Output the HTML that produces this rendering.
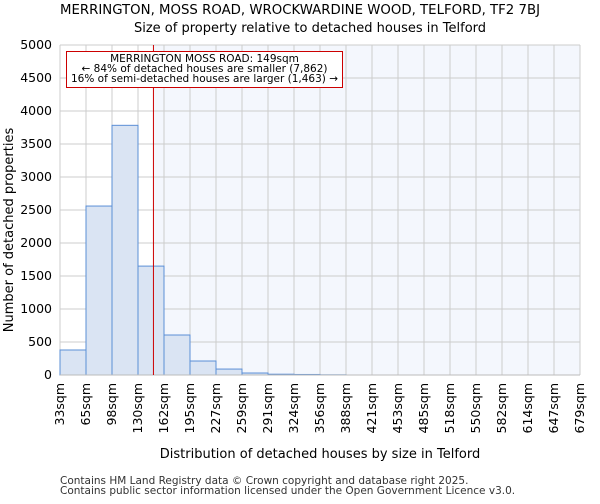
<!DOCTYPE html>
<html><head><meta charset="utf-8"><style>
body{margin:0;background:#fff;font-family:"DejaVu Sans","Liberation Sans",sans-serif;}
</style></head><body>
<svg id="chart" width="600" height="500" xmlns="http://www.w3.org/2000/svg" font-family="DejaVu Sans, Liberation Sans, sans-serif">
<text x="300" y="14" text-anchor="middle" font-size="13" textLength="480" lengthAdjust="spacingAndGlyphs">MERRINGTON, MOSS ROAD, WROCKWARDINE WOOD, TELFORD, TF2 7BJ</text>
<text x="310" y="32" text-anchor="middle" font-size="13">Size of property relative to detached houses in Telford</text>
<g id="plot"></g>
<text x="320" y="458" text-anchor="middle" font-size="13">Distribution of detached houses by size in Telford</text>
<text transform="translate(13,230) rotate(-90)" text-anchor="middle" font-size="13">Number of detached properties</text>
<text x="60" y="484" font-size="10.5" fill="#333">Contains HM Land Registry data © Crown copyright and database right 2025.</text>
<text x="60" y="494" font-size="10.5" fill="#333">Contains public sector information licensed under the Open Government Licence v3.0.</text>
</svg>
<script>
const categories=["33sqm","65sqm","98sqm","130sqm","162sqm","195sqm","227sqm","259sqm","291sqm","324sqm","356sqm","388sqm","421sqm","453sqm","485sqm","518sqm","550sqm","582sqm","614sqm","647sqm","679sqm"];
const values=[379,2560,3783,1650,606,212,90,30,12,8,3,0,0,0,0,0,0,0,0,0];
const yTicks=[0,500,1000,1500,2000,2500,3000,3500,4000,4500,5000];
const binStart=[33,65,98,130,162,195,227,259,291,324,356,388,421,453,485,518,550,582,614,647];
const propertySize=149;
const NS="http://www.w3.org/2000/svg";
const L=60,R=580,T=45,B=375,yMax=5000;
const n=values.length,bw=(R-L)/n;
const y=v=>B-(v/yMax)*(B-T);
const xi=i=>L+i*bw;
const g=document.getElementById('plot');
function mk(t,a){const e=document.createElementNS(NS,t);for(const k in a)e.setAttribute(k,a[k]);g.appendChild(e);return e;}
let pi=0;for(let i=0;i<binStart.length;i++){if(binStart[i]<=propertySize)pi=i;}
const nextStart=pi+1<binStart.length?binStart[pi+1]:binStart[pi]+32;
const px=xi(pi)+bw*(propertySize-binStart[pi])/(nextStart-binStart[pi]);
let bg=mk('rect',{x:L,y:T,width:R-L,height:B-T,fill:'#fff'});


let sh=mk('rect',{x:px,y:T,width:R-px,height:B-T,fill:'#f4f7fd'});


yTicks.forEach(t=>{
 let l=mk('line',{x1:L,x2:R,y1:y(t),y2:y(t),stroke:'#ccc','stroke-width':1});
 
 
 let tx=mk('text',{x:L-8,y:y(t)+4,'text-anchor':'end','font-size':12.5});
 tx.textContent=t;
 
 
});
categories.forEach((c,i)=>{
 let l=mk('line',{x1:xi(i),x2:xi(i),y1:T,y2:B,stroke:'#ccc','stroke-width':1});
 
 
 let tx=mk('text',{transform:`translate(${xi(i)+4},${B+8}) rotate(-90)`,'text-anchor':'end','font-size':12.5});
 tx.textContent=c;
 
 
});
values.forEach((v,i)=>{
 if(v<=0)return;
 let r=mk('rect',{x:xi(i),y:y(v),width:bw,height:B-y(v),fill:'#dae4f3',stroke:'#5b8fd6','stroke-width':1});
 
 
});
let ax=mk('line',{x1:L,x2:R,y1:B,y2:B,stroke:'#bbb','stroke-width':1});


let pl=mk('line',{x1:px,x2:px,y1:T,y2:B,stroke:'#c00','stroke-width':1});


let box=mk('rect',{x:66.5,y:51.5,width:276,height:36,fill:'#fff',stroke:'#c00','stroke-width':1});


["MERRINGTON MOSS ROAD: 149sqm","← 84% of detached houses are smaller (7,862)","16% of semi-detached houses are larger (1,463) →"].forEach((s,k)=>{
 let t=mk('text',{x:204.5,y:62+k*10,'text-anchor':'middle','font-size':10.5});
 t.textContent=s;
 
 
});
</script>
</body></html>
